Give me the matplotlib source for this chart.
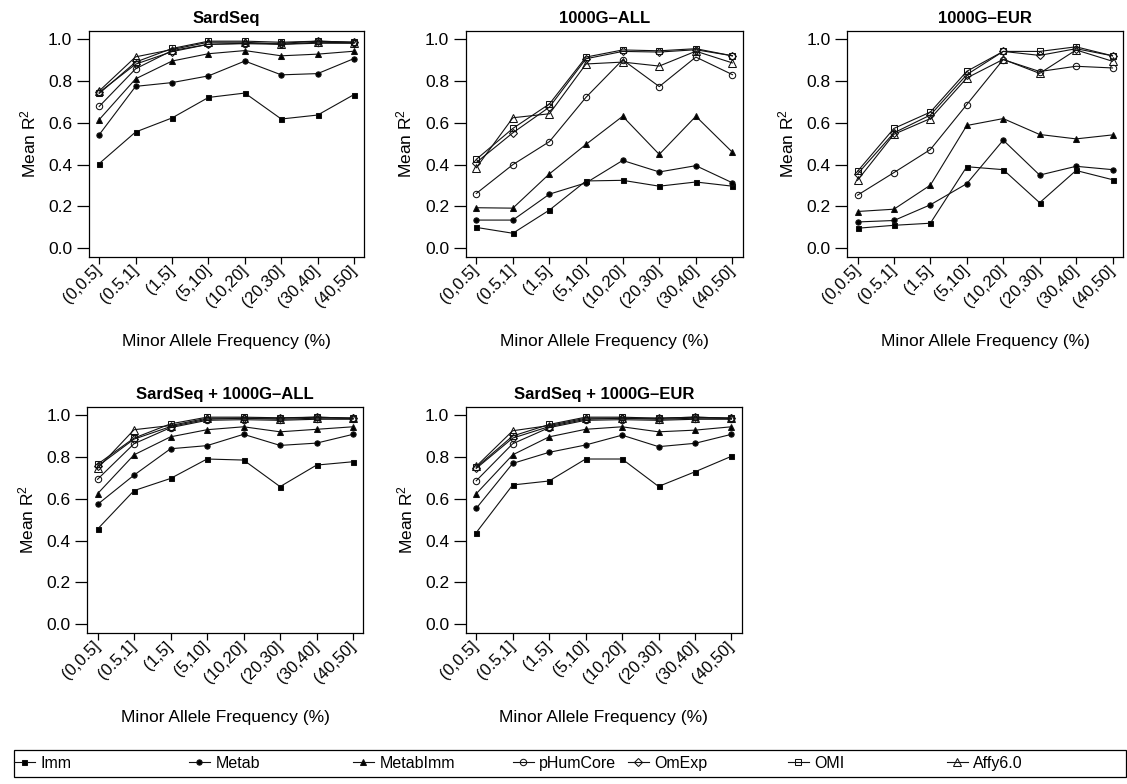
import matplotlib
matplotlib.use("Agg")
import matplotlib.pyplot as plt
from matplotlib.lines import Line2D
from matplotlib.patches import Rectangle
import matplotlib.transforms as mtransforms

plt.rcParams["font.family"] = ["Liberation Sans", "DejaVu Sans"]
plt.rcParams["mathtext.fontset"] = "custom"
plt.rcParams["mathtext.rm"] = "Liberation Sans"
plt.rcParams["mathtext.it"] = "Liberation Sans"

# MAF bins
maf_bins = ["(0,0.5]", "(0.5,1]", "(1,5]", "(5,10]", "(10,20]", "(20,30]", "(30,40]", "(40,50]"]
series_names = ["Imm", "Metab", "MetabImm", "pHumCore", "OmExp", "OMI", "Affy6.0"]

# Mean R2 per panel, one list per chip (order as series_names)
sardseq_imm = [0.405, 0.556, 0.623, 0.721, 0.742, 0.618, 0.637, 0.735]
sardseq_metab = [0.543, 0.774, 0.792, 0.824, 0.895, 0.829, 0.835, 0.907]
sardseq_metabimm = [0.615, 0.810, 0.895, 0.930, 0.945, 0.920, 0.928, 0.942]
sardseq_phumcore = [0.678, 0.858, 0.945, 0.975, 0.978, 0.975, 0.980, 0.980]
sardseq_omexp = [0.745, 0.880, 0.940, 0.975, 0.980, 0.980, 0.990, 0.985]
sardseq_omi = [0.740, 0.890, 0.955, 0.990, 0.990, 0.985, 0.990, 0.985]
sardseq_affy = [0.752, 0.915, 0.950, 0.985, 0.985, 0.975, 0.985, 0.982]

all_imm = [0.100, 0.072, 0.183, 0.322, 0.325, 0.297, 0.317, 0.297]
all_metab = [0.135, 0.135, 0.259, 0.313, 0.420, 0.365, 0.395, 0.313]
all_metabimm = [0.194, 0.192, 0.356, 0.497, 0.631, 0.449, 0.631, 0.459]
all_phumcore = [0.262, 0.400, 0.510, 0.722, 0.901, 0.773, 0.914, 0.830]
all_omexp = [0.410, 0.552, 0.675, 0.906, 0.941, 0.938, 0.949, 0.920]
all_omi = [0.425, 0.573, 0.690, 0.914, 0.948, 0.944, 0.954, 0.920]
all_affy = [0.385, 0.624, 0.643, 0.881, 0.890, 0.871, 0.942, 0.886]

eur_imm = [0.096, 0.110, 0.120, 0.390, 0.376, 0.218, 0.372, 0.328]
eur_metab = [0.126, 0.133, 0.208, 0.309, 0.517, 0.350, 0.392, 0.376]
eur_metabimm = [0.176, 0.187, 0.302, 0.587, 0.620, 0.544, 0.523, 0.542]
eur_phumcore = [0.254, 0.362, 0.472, 0.687, 0.902, 0.845, 0.870, 0.862]
eur_omexp = [0.355, 0.552, 0.637, 0.830, 0.941, 0.922, 0.954, 0.920]
eur_omi = [0.368, 0.573, 0.651, 0.846, 0.941, 0.941, 0.963, 0.920]
eur_affy = [0.325, 0.545, 0.620, 0.814, 0.903, 0.836, 0.948, 0.894]

sall_imm = [0.455, 0.639, 0.697, 0.790, 0.785, 0.658, 0.761, 0.777]
sall_metab = [0.573, 0.713, 0.839, 0.854, 0.908, 0.855, 0.866, 0.908]
sall_metabimm = [0.624, 0.810, 0.896, 0.930, 0.944, 0.920, 0.932, 0.944]
sall_phumcore = [0.693, 0.863, 0.940, 0.975, 0.978, 0.975, 0.980, 0.980]
sall_omexp = [0.755, 0.885, 0.945, 0.980, 0.985, 0.985, 0.990, 0.985]
sall_omi = [0.765, 0.890, 0.958, 0.990, 0.990, 0.987, 0.990, 0.985]
sall_affy = [0.745, 0.930, 0.950, 0.985, 0.985, 0.980, 0.985, 0.985]

seur_imm = [0.438, 0.666, 0.685, 0.790, 0.790, 0.659, 0.729, 0.803]
seur_metab = [0.554, 0.769, 0.822, 0.857, 0.904, 0.849, 0.865, 0.908]
seur_metabimm = [0.624, 0.810, 0.896, 0.932, 0.944, 0.920, 0.928, 0.944]
seur_phumcore = [0.686, 0.863, 0.940, 0.975, 0.978, 0.975, 0.980, 0.980]
seur_omexp = [0.745, 0.890, 0.945, 0.980, 0.985, 0.985, 0.990, 0.985]
seur_omi = [0.750, 0.900, 0.955, 0.990, 0.990, 0.985, 0.990, 0.985]
seur_affy = [0.755, 0.925, 0.950, 0.985, 0.985, 0.980, 0.985, 0.985]

panels = [
    ("SardSeq", [sardseq_imm, sardseq_metab, sardseq_metabimm, sardseq_phumcore, sardseq_omexp, sardseq_omi, sardseq_affy]),
    ("1000G\u2013ALL", [all_imm, all_metab, all_metabimm, all_phumcore, all_omexp, all_omi, all_affy]),
    ("1000G\u2013EUR", [eur_imm, eur_metab, eur_metabimm, eur_phumcore, eur_omexp, eur_omi, eur_affy]),
    ("SardSeq + 1000G\u2013ALL", [sall_imm, sall_metab, sall_metabimm, sall_phumcore, sall_omexp, sall_omi, sall_affy]),
    ("SardSeq + 1000G\u2013EUR", [seur_imm, seur_metab, seur_metabimm, seur_phumcore, seur_omexp, seur_omi, seur_affy]),
]

# marker styles (R pch 15,16,17,1,5,0,2 style)
styles = [
    dict(marker="s", mfc="black", ms=3.6),
    dict(marker="o", mfc="black", ms=3.8),
    dict(marker="^", mfc="black", ms=4.2),
    dict(marker="o", mfc="none", ms=4.6),
    dict(marker="D", mfc="none", ms=4.2),
    dict(marker="s", mfc="none", ms=4.6),
    dict(marker="^", mfc="none", ms=5.2),
]

W, H = 1127, 784
fig = plt.figure(figsize=(W / 100, H / 100), dpi=100)

# axes boxes in pixels: left, top, right, bottom
boxes = [
    (89, 30.7, 364.3, 256.7),
    (466, 30.7, 742.7, 256.7),
    (847.3, 30.7, 1122.7, 256.7),
    (87.3, 406.7, 363.3, 632.7),
    (466, 406.7, 741.7, 632.7),
]

x = list(range(1, len(maf_bins) + 1))
for (title, data), (l, t, r, b) in zip(panels, boxes):
    ax = fig.add_axes([l / W, 1 - b / H, (r - l) / W, (b - t) / H])
    for vals, st in zip(data, styles):
        ax.plot(x, vals, color="#111111", lw=0.8, marker=st["marker"],
                markerfacecolor=st["mfc"], markeredgecolor="#111111",
                markersize=st["ms"], markeredgewidth=0.75)
    ax.set_xlim(0.72, 8.28)
    ax.set_ylim(-0.04, 1.04)
    ax.set_yticks([0, 0.2, 0.4, 0.6, 0.8, 1.0])
    ax.set_yticklabels(["0.0", "0.2", "0.4", "0.6", "0.8", "1.0"])
    ax.set_xticks(x)
    ax.set_xticklabels(maf_bins, rotation=45, ha="right", va="center",
                       rotation_mode="anchor", fontsize=12)
    offset = mtransforms.ScaledTranslation(15 / 100, -9 / 100, fig.dpi_scale_trans)
    for lab in ax.get_xticklabels():
        lab.set_transform(lab.get_transform() + offset)
    ax.tick_params(axis="y", length=8.5, width=0.9, pad=3.5, labelsize=12.5)
    ax.tick_params(axis="x", length=5, width=0.9, pad=3)
    for sp in ax.spines.values():
        sp.set_linewidth(0.9)
    ax.set_title(title, fontsize=12, fontweight="bold", pad=5.5)
    ax.set_ylabel("Mean R$^2$", fontsize=12.5)
    ax.yaxis.set_label_coords(-0.185, 0.5)
    ax.set_xlabel("Minor Allele Frequency (%)", fontsize=12.5)
    ax.xaxis.set_label_coords(0.5, -0.375)
    ax.xaxis.label.set_va("center")

# legend along the bottom
leg_x = [14, 189, 353, 513, 628, 788, 947]
for name, st, lx in zip(series_names, styles, leg_x):
    h = Line2D([], [], color="#111111", lw=0.8, marker=st["marker"],
               markerfacecolor=st["mfc"], markeredgecolor="#111111",
               markersize=st["ms"], markeredgewidth=0.75)
    fig.legend([h], [name], loc="center left", bbox_to_anchor=(lx / W, 1 - 763.5 / H),
               frameon=False, fontsize=11.5, handlelength=1.3, handletextpad=0.35,
               borderpad=0, borderaxespad=0)
fig.patches.append(Rectangle((14 / W, 1 - 777 / H), (1126 - 14) / W, 27 / H,
                             transform=fig.transFigure, fill=False, lw=0.9, ec="black"))

fig.savefig("out.png", dpi=100)
